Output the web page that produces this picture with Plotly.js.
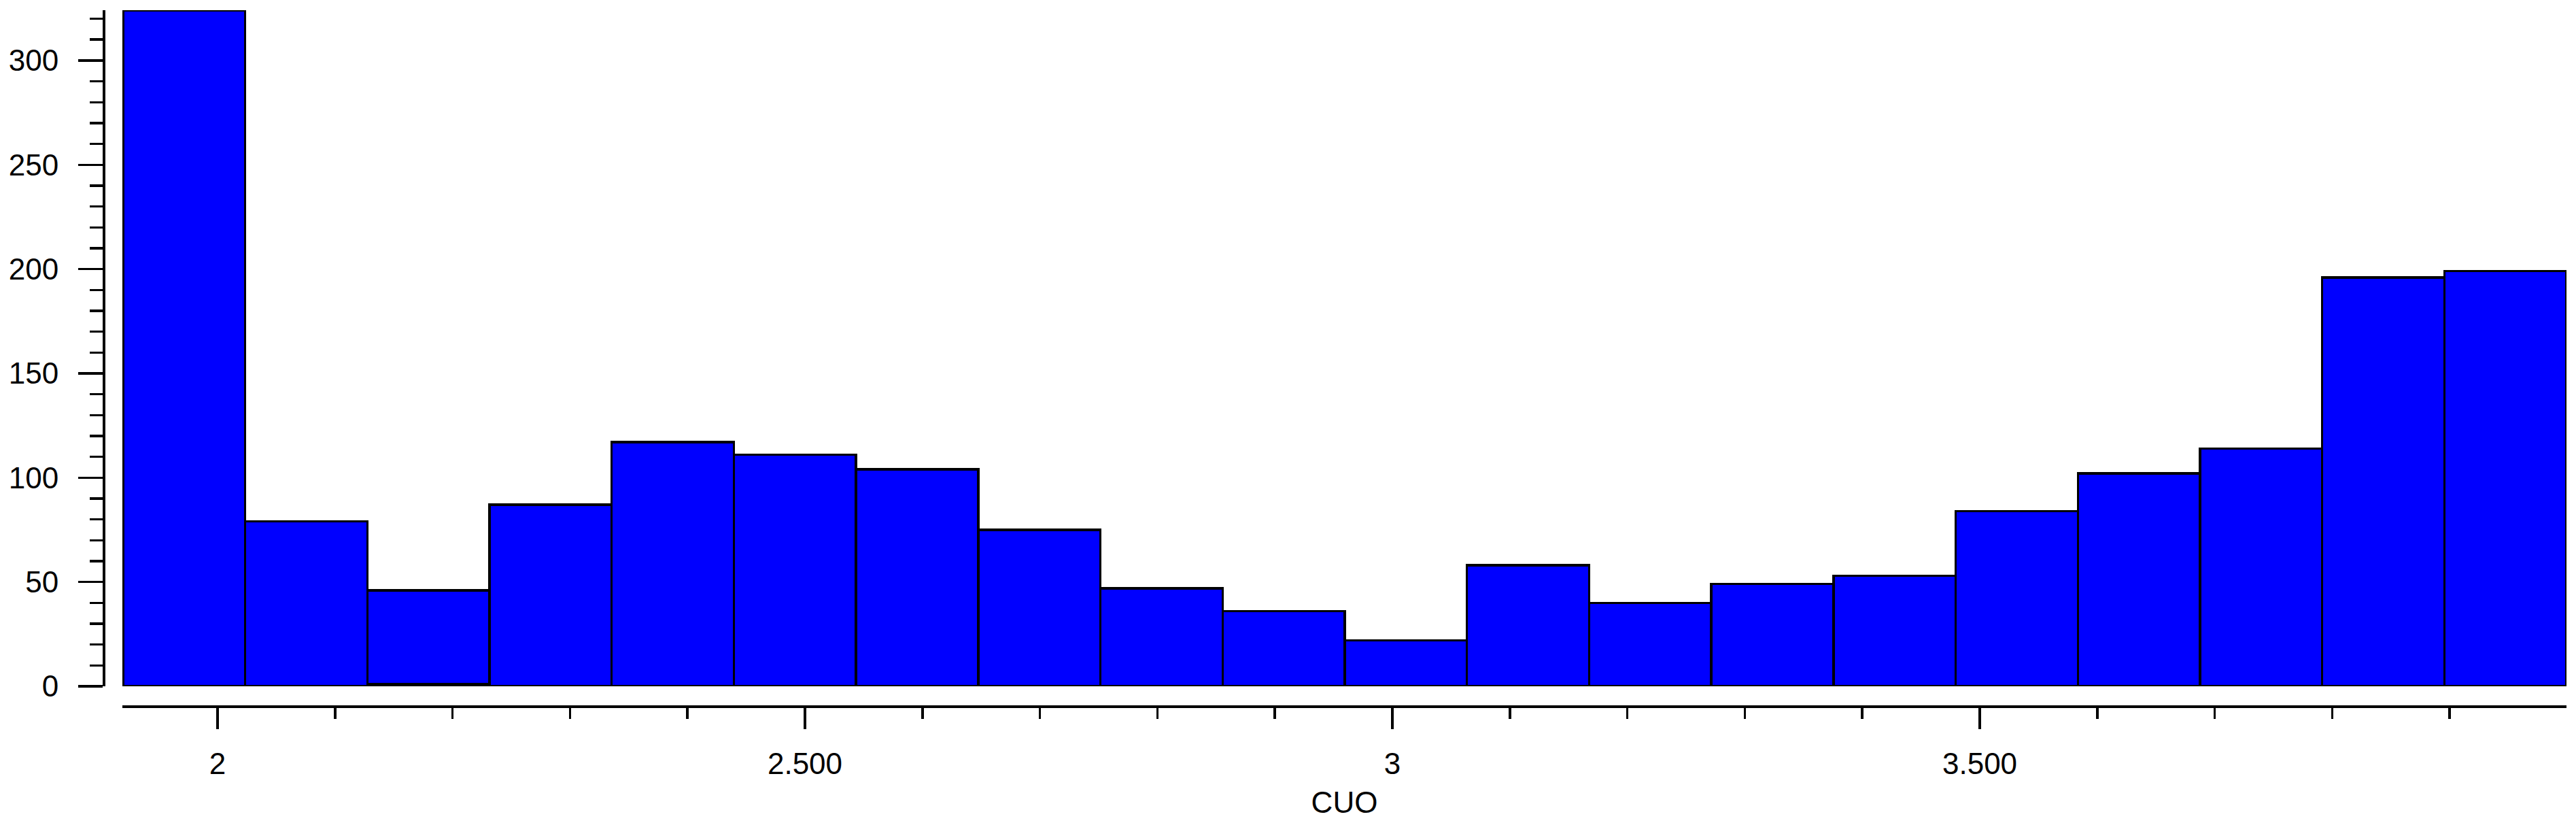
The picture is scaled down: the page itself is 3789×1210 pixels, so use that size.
<!DOCTYPE html>
<html>
<head>
<meta charset="utf-8">
<script src="https://cdn.plot.ly/plotly-3.0.1.min.js"></script>
<style>
  html, body { margin: 0; padding: 0; background: #fff; }
  #chart { width: 3789px; height: 1210px; }
</style>
</head>
<body>
<div id="chart"></div>
<script>
// histogram of CUO, 20 bins
const binLeft = [1.9195, 2.0235, 2.1275, 2.2315, 2.3355, 2.4395, 2.5435, 2.6475, 2.7515, 2.8555,
                 2.9595, 3.0635, 3.1675, 3.2715, 3.3755, 3.4795, 3.5835, 3.6875, 3.7915, 3.8955];
const binWidth = 0.104;
// small bottom segment (only the 3rd bin has one)
const countsBase = [null, null, 1, null, null, null, null, null, null, null,
                    null, null, null, null, null, null, null, null, null, null];
const counts = [324, 79, 45, 87, 117, 111, 104, 75, 47, 36,
                22, 58, 40, 49, 53, 84, 102, 114, 196, 199];
const xTickVals = [2, 2.5, 3, 3.5];
const xTickText = ['2', '2.500', '3', '3.500'];

const font = { family: 'Liberation Sans, Arial, sans-serif', size: 44, color: '#000' };
const lw = 3.5;
const barStyle = { color: '#0000ff', line: { color: '#000', width: lw } };

const traces = [
  { type: 'bar', x: binLeft, y: countsBase, width: binWidth, offset: 0,
    marker: barStyle, cliponaxis: false, hoverinfo: 'skip' },
  { type: 'bar', x: binLeft, y: counts, width: binWidth, offset: 0,
    marker: barStyle, cliponaxis: false, hoverinfo: 'skip' }
];

const layout = {
  width: 3789,
  height: 1210,
  margin: { l: 152, r: 14, t: 15, b: 172 },
  paper_bgcolor: '#fff',
  plot_bgcolor: '#fff',
  showlegend: false,
  barmode: 'stack',
  bargap: 0,
  font: font,
  xaxis: {
    domain: [28 / 3623, 1],
    anchor: 'free',
    position: 0,
    range: [1.919, 3.9994],
    showline: true, linecolor: '#000', linewidth: lw,
    showgrid: false, zeroline: false,
    ticks: 'outside', ticklen: 31, tickwidth: lw, tickcolor: '#000',
    tickmode: 'array', tickvals: xTickVals, ticktext: xTickText,
    ticklabelstandoff: 14,
    minor: { ticks: 'outside', ticklen: 16, tickwidth: lw, tickcolor: '#000', tick0: 0, dtick: 0.1, showgrid: false },
    tickfont: font,
    title: { text: 'CUO', font: font, standoff: 18 }
  },
  yaxis: {
    domain: [29 / 1023, 1],
    anchor: 'free',
    position: 0,
    range: [0, 324.1],
    showline: true, linecolor: '#000', linewidth: lw,
    showgrid: false, zeroline: false,
    ticks: 'outside', ticklen: 36, tickwidth: lw, tickcolor: '#000',
    tick0: 0, dtick: 50,
    ticklabelstandoff: 20,
    minor: { ticks: 'outside', ticklen: 19, tickwidth: lw, tickcolor: '#000', tick0: 0, dtick: 10, showgrid: false },
    tickfont: font
  }
};

Plotly.newPlot('chart', traces, layout, { staticPlot: true, displayModeBar: false });
</script>
</body>
</html>
